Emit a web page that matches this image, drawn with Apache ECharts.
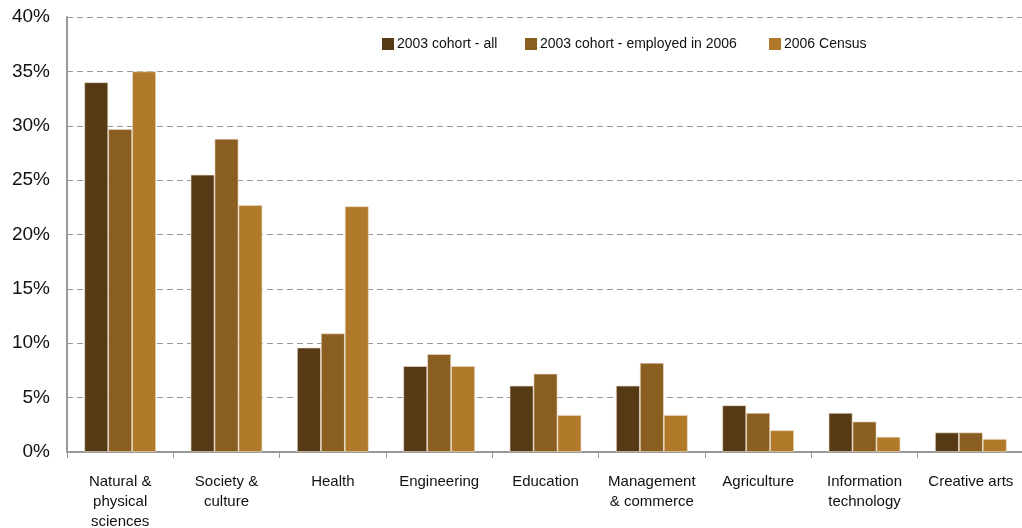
<!DOCTYPE html>
<html>
<head>
<meta charset="utf-8">
<style>
  html, body { margin: 0; padding: 0; background: #ffffff; }
  #chart { width: 1022px; height: 528px; }
</style>
<script src="https://cdn.jsdelivr.net/npm/echarts@6/dist/echarts.min.js"></script>
</head>
<body>
<div id="chart"></div>
<script>
// Field of study shares (%)
const categories = [
  'Natural &\nphysical\nsciences',
  'Society &\nculture',
  'Health',
  'Engineering',
  'Education',
  'Management\n& commerce',
  'Agriculture',
  'Information\ntechnology',
  'Creative arts'
];
const seriesNames = ['2003 cohort - all', '2003 cohort - employed in 2006', '2006 Census'];
const cohortAll      = [34.0, 25.5, 9.6, 7.9, 6.1, 6.1, 4.3, 3.6, 1.8];
const cohortEmployed = [29.7, 28.8, 10.9, 9.0, 7.2, 8.2, 3.6, 2.8, 1.8];
const census2006     = [35.0, 22.7, 22.6, 7.9, 3.4, 3.4, 2.0, 1.4, 1.2];
const yTicks = [0, 5, 10, 15, 20, 25, 30, 35, 40];

const colors = ['#563A15', '#8A5D21', '#B07A2A'];
const font = 'Liberation Sans, Arial, sans-serif';
// left offsets of the three legend entries
const legendLefts = [377, 520, 764];

const chart = echarts.init(document.getElementById('chart'), null, { renderer: 'canvas' });

const seriesData = [cohortAll, cohortEmployed, census2006];
chart.setOption({
  animation: false,
  color: colors,
  textStyle: { fontFamily: font },
  legend: seriesNames.map((name, i) => ({
    data: [name],
    left: legendLefts[i],
    top: 32,
    itemWidth: 12,
    itemHeight: 12,
    icon: 'rect',
    itemStyle: { borderWidth: 0 },
    textStyle: { fontSize: 14, color: '#111', fontFamily: font, padding: [0, 0, 0, -2] }
  })),
  grid: { left: 67, right: -2, top: 17, bottom: 76, containLabel: false, outerBoundsMode: 'none' },
  xAxis: {
    type: 'category',
    data: categories,
    axisLine: { lineStyle: { color: '#999', width: 2 } },
    axisTick: { show: true, length: 6, lineStyle: { color: '#999' } },
    axisLabel: { fontSize: 15, color: '#111', lineHeight: 20, margin: 20, interval: 0 }
  },
  yAxis: {
    type: 'value',
    min: yTicks[0],
    max: yTicks[yTicks.length - 1],
    interval: 5,
    axisLine: { show: true, lineStyle: { color: '#999', width: 2 } },
    axisTick: { show: false },
    axisLabel: { fontSize: 19, color: '#111', margin: 17, formatter: v => v + '%' },
    splitLine: { lineStyle: { color: '#999', type: [6, 4], width: 1 } }
  },
  series: seriesNames.map((name, i) => ({
    name,
    type: 'bar',
    data: seriesData[i],
    barWidth: '22.5%',
    barGap: '0%',
    itemStyle: { color: colors[i], borderColor: 'rgba(235,220,200,0.8)', borderWidth: 0.8 }
  }))
});
</script>
</body>
</html>
